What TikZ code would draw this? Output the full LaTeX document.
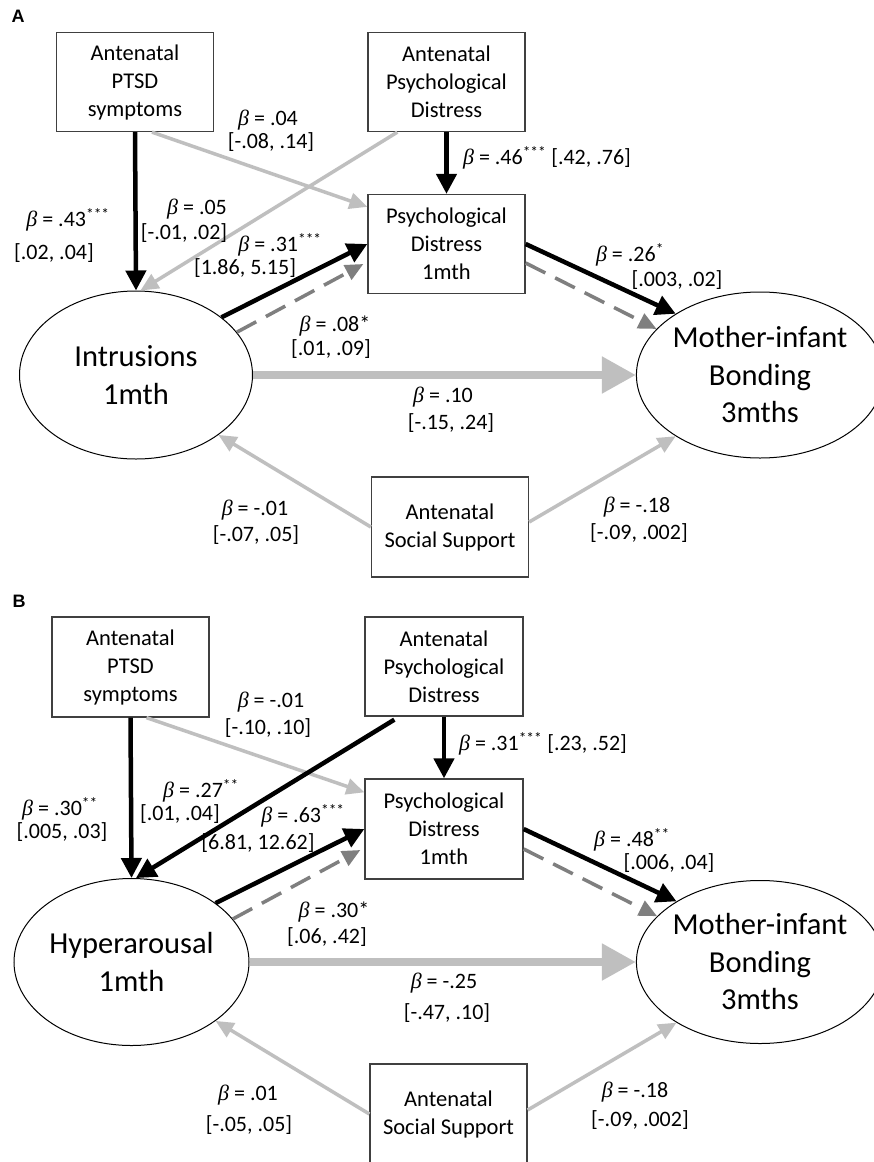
\documentclass[tikz,border=0pt]{standalone}
\usepackage{fontspec}
\setmainfont{Carlito}
\newfontfamily\grk{Liberation Serif}
\newfontfamily\hdr{Liberation Sans}
\usetikzlibrary{arrows.meta,shapes.geometric,calc}
\newcommand{\bt}{{\grk\itshape β}}
\definecolor{boxc}{HTML}{404040}
\definecolor{lgray}{HTML}{BFBFBF}
\definecolor{dgray}{HTML}{7F7F7F}
\begin{document}
\begin{tikzpicture}[x=1pt,y=-1pt,
  box/.style={draw=boxc, line width=1.3pt, minimum width=157pt, minimum height=99pt, align=center, font=\fontsize{22.5}{28}\selectfont, inner sep=0pt},
  ell/.style={draw=black, ellipse, line width=1pt, align=center, font=\fontsize{30.5}{37.5}\selectfont, inner sep=0pt},
  lbl/.style={font=\fontsize{22}{24}\selectfont, inner sep=0pt},
  hd/.style={font=\hdr\bfseries\fontsize{18}{20}\selectfont, inner sep=0pt},
  blk/.style={draw=black, line width=4.5pt, -{Triangle[length=20pt,width=20pt]}},
  gry/.style={draw=lgray, line width=3.5pt, -{Triangle[length=18pt,width=16pt]}},
  dsh/.style={draw=dgray, line width=3.5pt, dash pattern=on 22pt off 11pt, -{Triangle[length=18pt,width=16pt]}},
  big/.style={draw=lgray, line width=8pt, -{Triangle[length=34pt,width=35pt]}}
]
\useasboundingbox (0,0) rectangle (874,1162);
\fill[white] (0,0) rectangle (874,1162);

% ---------------- Panel A ----------------
\node[hd] (hA) at (18,16) {A};
\node[box] (ptsdA) at (135,82) {Antenatal\\PTSD\\symptoms};
\node[box] (apdA) at (446.5,82) {Antenatal\\Psychological\\Distress};
\node[box] (pd1A) at (446.5,244) {Psychological\\Distress\\1mth};
\node[ell, minimum width=233pt, minimum height=168pt] (intrA) at (136,375) {Intrusions\\1mth};
\node[ell, minimum width=226pt, minimum height=166pt] (mothA) at (760,375) {Mother-infant\\Bonding\\3mths};
\node[box, minimum height=100pt] (socA) at (450,527) {Antenatal\\Social Support};

\draw[gry] ($(ptsdA.south)+(17,0)$) -- ($(pd1A.north west)+(0,13)$);
\draw[gry] ($(apdA.south west)+(30,0)$) -- (intrA.87);
\draw[blk] (ptsdA.south) -- (intrA.north);
\draw[blk] (apdA.south) -- (pd1A.north);
\draw[blk] (intrA.34) -- (pd1A.west);
\draw[dsh] (intrA.23) -- ($(pd1A.west)+(-4,20)$);
\draw[blk] (pd1A.east) -- (mothA.144);
\draw[dsh] ($(pd1A.east)+(0,19)$) -- (mothA.156);
\draw[big] (intrA.east) -- (mothA.west);
\draw[gry] (socA.west) -- (intrA.-36);
\draw[gry] ($(socA.east)+(0,-5)$) -- (mothA.-144);

\node[lbl] (a1a) at (268,120) {\bt{} = .04};
\node[lbl] (a1b) at (271,142) {[-.08, .14]};
\node[lbl] (a2a) at (68,220) {\bt{} = .43\textsuperscript{***}};
\node[lbl] (a2b) at (54,253) {[.02, .04]};
\node[lbl] (a3a) at (197,209) {\bt{} = .05};
\node[lbl] (a3b) at (184,233) {[-.01, .02]};
\node[lbl] (a4a) at (280,245) {\bt{} = .31\textsuperscript{***}};
\node[lbl] (a4b) at (245,268) {[1.86, 5.15]};
\node[lbl] (a5) at (547,158) {\bt{} = .46\textsuperscript{***} [.42, .76]};
\node[lbl] (a6a) at (630,255) {\bt{} = .26\textsuperscript{*}};
\node[lbl] (a6b) at (677,280) {[.003, .02]};
\node[lbl] (a7a) at (335,326) {\bt{} = .08*};
\node[lbl] (a7b) at (331,349) {[.01, .09]};
\node[lbl] (a8a) at (443,397) {\bt{} = .10};
\node[lbl] (a8b) at (451,423) {[-.15, .24]};
\node[lbl] (a9a) at (255,510) {\bt{} = -.01};
\node[lbl] (a9b) at (256,535) {[-.07, .05]};
\node[lbl] (a10a) at (637,507) {\bt{} = -.18};
\node[lbl] (a10b) at (639,533) {[-.09, .002]};

% ---------------- Panel B ----------------
\node[hd] (hB) at (19,601) {B};
\node[box, minimum height=100pt] (ptsdB) at (130.5,667) {Antenatal\\PTSD\\symptoms};
\node[box, minimum width=158pt] (apdB) at (444,666.5) {Antenatal\\Psychological\\Distress};
\node[box, minimum width=158pt, minimum height=100pt] (pd1B) at (444,829) {Psychological\\Distress\\1mth};
\node[ell, minimum width=235pt, minimum height=167pt] (hypB) at (131.5,962) {Hyperarousal\\1mth};
\node[ell, minimum width=226pt, minimum height=163pt] (mothB) at (760,962) {Mother-infant\\Bonding\\3mths};
\node[box, minimum height=100pt] (socB) at (448.5,1114) {Antenatal\\Social Support};

\draw[gry] ($(ptsdB.south)+(16,0)$) -- ($(pd1B.north west)+(0,14)$);
\draw[blk] (ptsdB.south) -- (hypB.north);
\draw[blk] ($(apdB.south west)+(30,3)$) -- (hypB.87);
\draw[blk] (apdB.south) -- (pd1B.north);
\draw[blk] (hypB.35) -- (pd1B.west);
\draw[dsh] (hypB.23) -- ($(pd1B.west)+(-4,21)$);
\draw[blk] (pd1B.east) -- (mothB.144);
\draw[dsh] ($(pd1B.east)+(0,20)$) -- (mothB.156);
\draw[big] (hypB.east) -- (mothB.west);
\draw[gry] (socB.west) -- (hypB.-35);
\draw[gry] ($(socB.east)+(0,-4)$) -- (mothB.-144);

\node[lbl] (b1a) at (271,702) {\bt{} = -.01};
\node[lbl] (b1b) at (268,728) {[-.10, .10]};
\node[lbl] (b2a) at (60,809) {\bt{} = .30\textsuperscript{**}};
\node[lbl] (b2b) at (62,832) {[.005, .03]};
\node[lbl] (b3a) at (201,791) {\bt{} = .27\textsuperscript{**}};
\node[lbl] (b3b) at (180,814) {[.01, .04]};
\node[lbl] (b4a) at (303,816) {\bt{} = .63\textsuperscript{***}};
\node[lbl] (b4b) at (258,843) {[6.81, 12.62]};
\node[lbl] (b5) at (543,744) {\bt{} = .31\textsuperscript{***} [.23, .52]};
\node[lbl] (b6a) at (632,840) {\bt{} = .48\textsuperscript{**}};
\node[lbl] (b6b) at (669,863) {[.006, .04]};
\node[lbl] (b7a) at (334,912) {\bt{} = .30*};
\node[lbl] (b7b) at (327,937) {[.06, .42]};
\node[lbl] (b8a) at (444,983) {\bt{} = -.25};
\node[lbl] (b8b) at (447,1013) {[-.47, .10]};
\node[lbl] (b9a) at (248,1095) {\bt{} = .01};
\node[lbl] (b9b) at (249,1125) {[-.05, .05]};
\node[lbl] (b10a) at (635,1092) {\bt{} = -.18};
\node[lbl] (b10b) at (640,1120) {[-.09, .002]};
\end{tikzpicture}
\end{document}
